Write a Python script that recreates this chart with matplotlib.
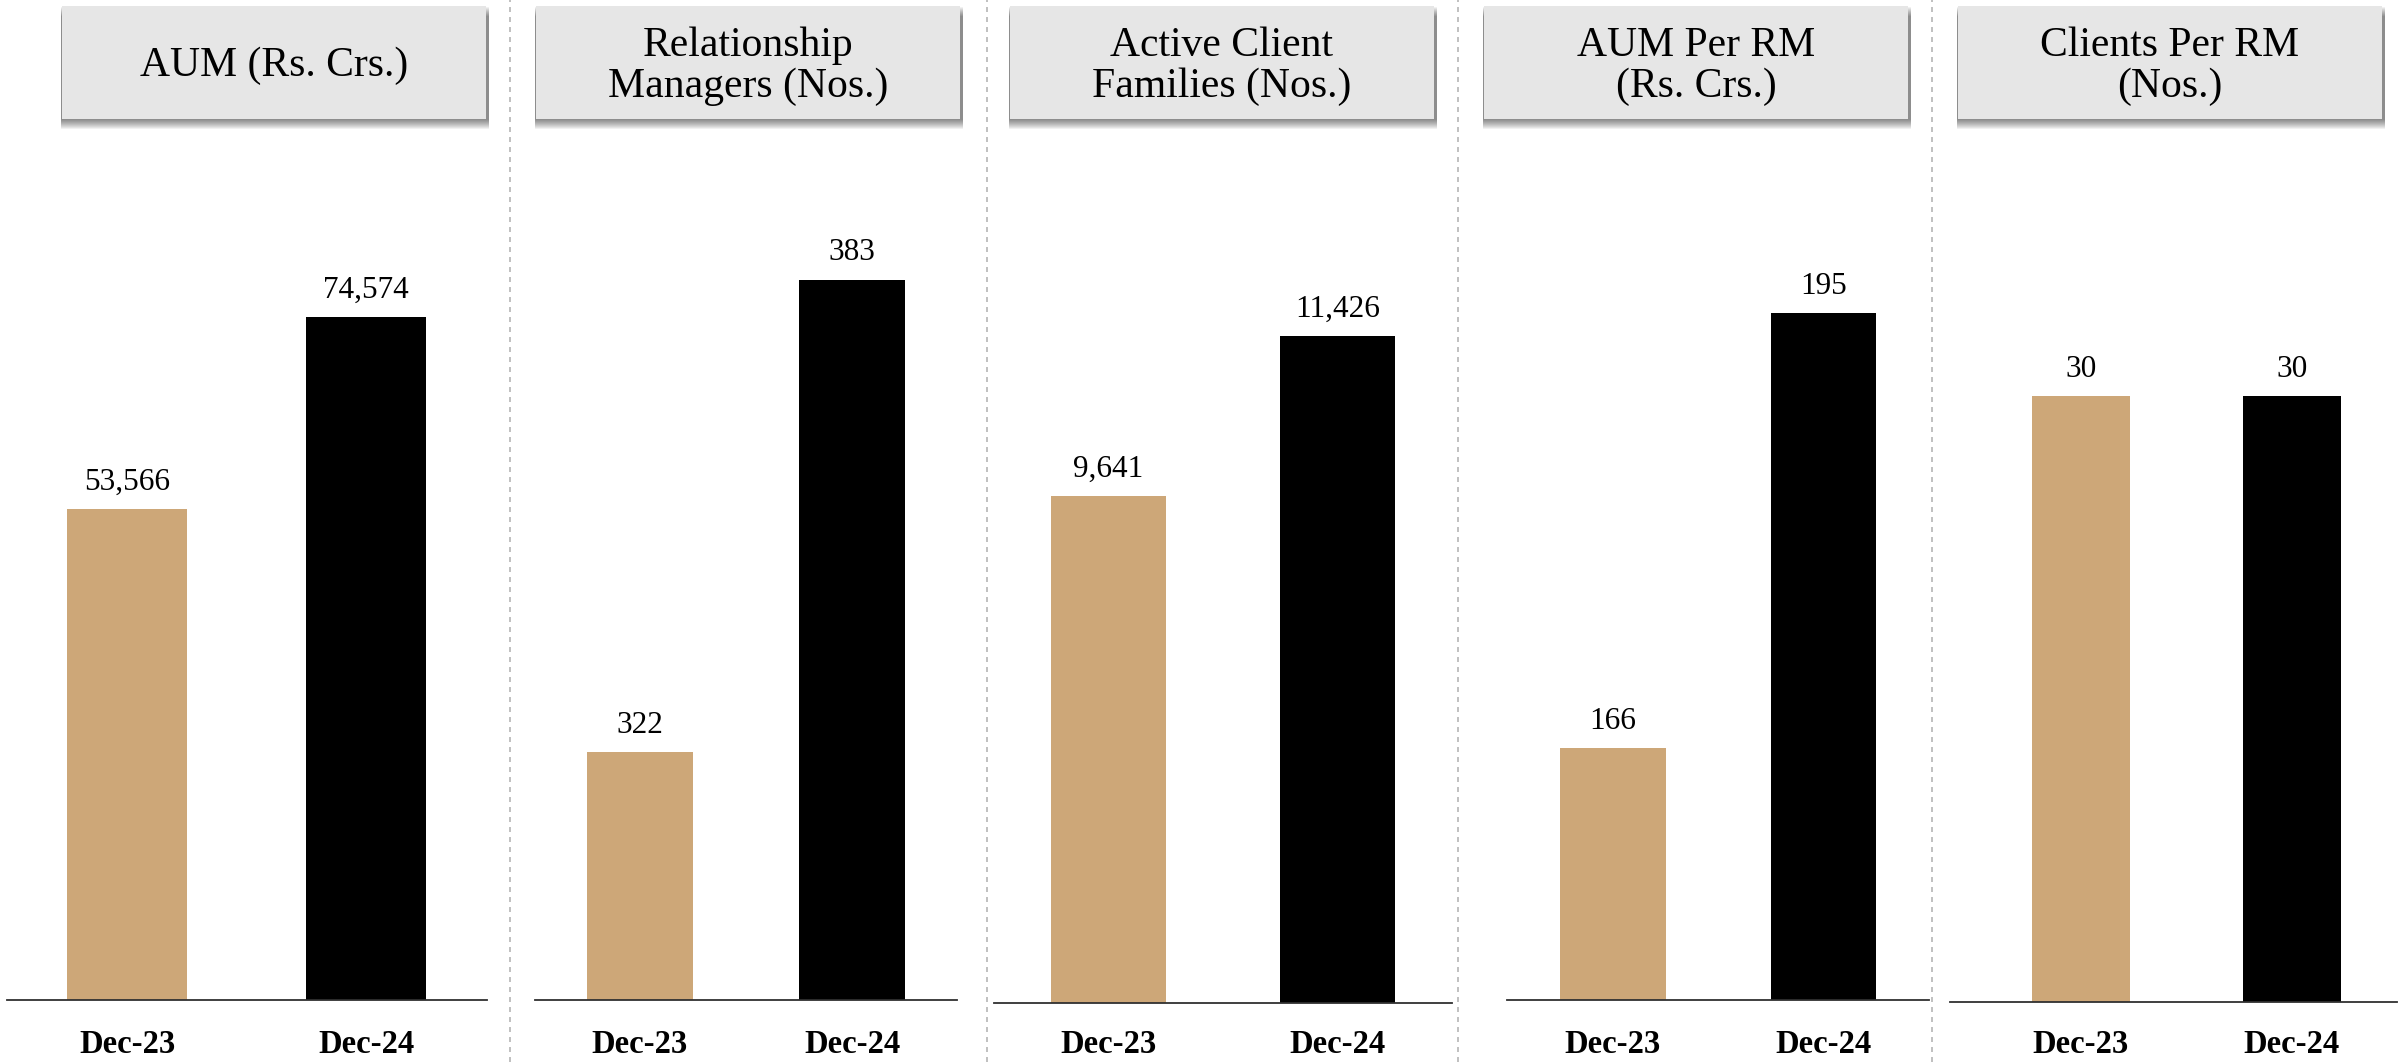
import matplotlib.pyplot as plt
from matplotlib.patches import Rectangle
from matplotlib.lines import Line2D

# data
periods = ["Dec-23", "Dec-24"]
titles = ["AUM (Rs. Crs.)", "Relationship\nManagers (Nos.)", "Active Client\nFamilies (Nos.)",
          "AUM Per RM\n(Rs. Crs.)", "Clients Per RM\n(Nos.)"]
aum = [53566, 74574]
rel_managers = [322, 383]
client_families = [9641, 11426]
aum_per_rm = [166, 195]
clients_per_rm = [30, 30]
series = [aum, rel_managers, client_families, aum_per_rm, clients_per_rm]

# axis ranges as in the slide (most panels do not start at zero)
ylims = [(0, 95000), (290, 402.3), (3985, 13724), (149.2, 207.2), (0, 43.2)]

bar_colors = ["#CDA778", "#000000"]
font = "Liberation Serif"

# layout, in pixels of the 2407x1062 picture
W, H = 2407, 1062
lefts = [7, 535, 994, 1507, 1950]
rights = [487, 957, 1452, 1929, 2397]
bases = [1000, 1000, 1003, 1000, 1002]
top = 130
xlims = [(-0.502, 1.506), (-0.495, 1.495), (-0.5, 1.5), (-0.502, 1.5), (-0.62, 1.5)]
bar_w = [0.5, 0.5, 0.5, 0.5, 0.465]
dividers = [510, 987, 1458, 1932]
box_w, box_top, box_bot = 424, 6, 119


def fx(x):
    return x / W


def fy(y):
    return 1 - y / H


fig = plt.figure(figsize=(W / 100, H / 100), dpi=100)

for i, vals in enumerate(series):
    ax = fig.add_axes([fx(lefts[i]), fy(bases[i]), fx(rights[i] - lefts[i]), (bases[i] - top) / H])
    ax.bar(range(len(vals)), vals, width=bar_w[i], color=bar_colors, zorder=1)
    ax.set_xlim(*xlims[i])
    ax.set_ylim(*ylims[i])
    for s in ["top", "left", "right"]:
        ax.spines[s].set_visible(False)
    ax.spines["bottom"].set_color("#303030")
    ax.spines["bottom"].set_linewidth(1.3)
    ax.spines["bottom"].set_zorder(3)
    ax.set_xticks([])
    ax.set_yticks([])
    ax.patch.set_alpha(0)

    for j, v in enumerate(vals):
        ax.annotate(f"{v:,}", xy=(j, v), xytext=(0, 14), textcoords="offset points",
                    ha="center", va="baseline", fontsize=22.5, family=font, color="black")
        ax.text(j, -(1053 - bases[i]) / (bases[i] - top), periods[j], transform=ax.get_xaxis_transform(),
                ha="center", va="baseline", fontsize=23.5, fontweight="bold", family=font)

    # header box with soft shadow
    cx = 274 + 474 * i
    x0 = cx - box_w / 2
    for k in range(1, 11):
        fig.add_artist(Rectangle((fx(x0 - 1), fy(box_bot + k)), fx(box_w + 4), (box_bot - box_top) / H,
                                 transform=fig.transFigure, facecolor="black", edgecolor="none",
                                 alpha=0.055, zorder=1))
    fig.add_artist(Rectangle((fx(x0), fy(box_bot)), fx(box_w), (box_bot - box_top) / H,
                             transform=fig.transFigure, facecolor="#E6E6E6", edgecolor="none", zorder=2))
    fig.text(fx(cx), fy(66), titles[i], ha="center", va="center", fontsize=30, family=font,
             linespacing=1.08, zorder=3)

for x in dividers:
    fig.add_artist(Line2D([fx(x), fx(x)], [0, 1], transform=fig.transFigure,
                          color="#b5b5b5", linewidth=1.2, linestyle=(0, (3, 3))))

fig.savefig("out.png", dpi=100)
